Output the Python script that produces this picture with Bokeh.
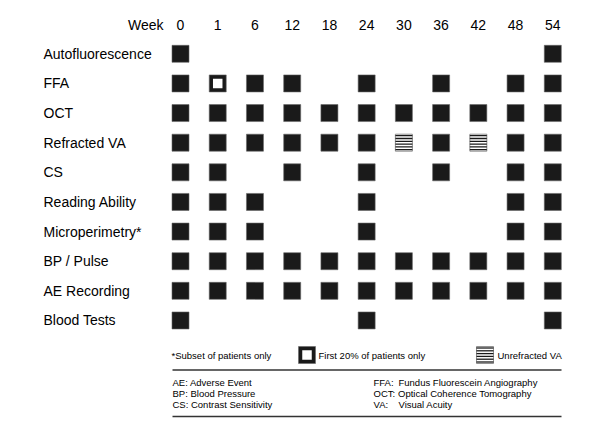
from bokeh.plotting import figure
from bokeh.models import Range1d
from bokeh.embed import file_html
from bokeh.resources import INLINE
from bokeh.core.properties import value

# ---- data ----
weeks = ["0", "1", "6", "12", "18", "24", "30", "36", "42", "48", "54"]
assessments = ["Autofluorescence", "FFA", "OCT", "Refracted VA", "CS",
               "Reading Ability", "Microperimetry*", "BP / Pulse",
               "AE Recording", "Blood Tests"]
# visit weeks per assessment (F = full, O = first 20% only, H = unrefracted VA)
schedule = {
    "Autofluorescence": {"0": "F", "54": "F"},
    "FFA": {"0": "F", "1": "O", "6": "F", "12": "F", "24": "F", "36": "F", "48": "F", "54": "F"},
    "OCT": {w: "F" for w in weeks},
    "Refracted VA": {w: ("H" if w in ("30", "42") else "F") for w in weeks},
    "CS": {"0": "F", "1": "F", "12": "F", "24": "F", "36": "F", "48": "F", "54": "F"},
    "Reading Ability": {"0": "F", "1": "F", "6": "F", "24": "F", "48": "F", "54": "F"},
    "Microperimetry*": {"0": "F", "1": "F", "6": "F", "24": "F", "48": "F", "54": "F"},
    "BP / Pulse": {w: "F" for w in weeks},
    "AE Recording": {w: "F" for w in weeks},
    "Blood Tests": {"0": "F", "24": "F", "54": "F"},
}
legend_labels = ["*Subset of patients only", "First 20% of patients only", "Unrefracted VA"]
abbrev_left = ["AE: Adverse Event", "BP: Blood Pressure", "CS: Contrast Sensitivity"]
abbrev_right_key = ["FFA:", "OCT:", "VA:"]
abbrev_right_val = ["Fundus Fluorescein Angiography", "Optical Coherence Tomography", "Visual Acuity"]

# ---- layout (page pixel coordinates) ----
X0, DX = 180.0, 37.23
Y0, DY = 53.3, 29.63
SQ = 17
FONT = value("Liberation Sans")
BLACK = "#1a1a1a"

p = figure(width=600, height=429, output_backend="svg", toolbar_location=None,
           x_range=Range1d(0, 600), y_range=Range1d(429, 0),
           min_border=0, outline_line_color=None)
p.axis.visible = False
p.grid.visible = False
p.background_fill_color = "white"
p.border_fill_color = "white"

# header
col_x = [X0 + i * DX for i in range(len(weeks))]
p.text(x=[163], y=[24], text=["Week"], text_font=FONT, text_font_size="14px",
       text_align="right", text_baseline="middle", text_color="black")
p.text(x=col_x, y=[24] * len(weeks), text=weeks, text_font=FONT, text_font_size="14px",
       text_align="center", text_baseline="middle", text_color="black")

# row labels
row_y = [Y0 + j * DY for j in range(len(assessments))]
p.text(x=[43] * len(assessments), y=row_y, text=assessments, text_font=FONT,
       text_font_size="14px", text_align="left", text_baseline="middle", text_color="black")

fx, fy, ox, oy, hx, hy = [], [], [], [], [], []
for j, a in enumerate(assessments):
    for i, w in enumerate(weeks):
        k = schedule[a].get(w)
        if k == "F":
            fx.append(col_x[i]); fy.append(row_y[j])
        elif k == "O":
            ox.append(col_x[i]); oy.append(row_y[j])
        elif k == "H":
            hx.append(col_x[i]); hy.append(row_y[j])

# legend markers positions
LEG_Y = 354.5
ox.append(306.5); oy.append(LEG_Y)
hx.append(484.5); hy.append(LEG_Y)

p.rect(x=fx, y=fy, width=SQ, height=SQ, fill_color=BLACK, line_color="#666", line_width=0.6)
p.rect(x=ox, y=oy, width=SQ, height=SQ, fill_color=BLACK, line_color="#666", line_width=0.6)
p.rect(x=ox, y=oy, width=9.5, height=9.5, fill_color="white", line_color=None)
p.rect(x=hx, y=hy, width=SQ, height=SQ, fill_color="white", line_color="#777", line_width=0.8)
sx0, sx1, sy = [], [], []
for cx, cy in zip(hx, hy):
    for t in range(6):
        yy = cy - SQ / 2 + 1.5 + t * 2.8
        sx0.append(cx - SQ / 2); sx1.append(cx + SQ / 2); sy.append(yy)
p.segment(x0=sx0, y0=sy, x1=sx1, y1=sy, line_color=BLACK, line_width=1.3)

# legend texts
p.text(x=[171, 318, 497], y=[LEG_Y] * 3, text=legend_labels, text_font=FONT,
       text_font_size="9.5px", text_align="left", text_baseline="middle", text_color="black")

# separator lines
p.segment(x0=[172, 172], y0=[369.5, 416], x1=[561, 561], y1=[369.5, 416],
          line_color="#333", line_width=1.5)

ab_y = [381.7, 392.7, 404]
p.text(x=[172] * 3, y=ab_y, text=abbrev_left, text_font=FONT, text_font_size="9.5px",
       text_align="left", text_baseline="middle", text_color="black")
p.text(x=[373] * 3, y=ab_y, text=abbrev_right_key, text_font=FONT, text_font_size="9.5px",
       text_align="left", text_baseline="middle", text_color="black")
p.text(x=[398, 397.5, 398], y=ab_y, text=abbrev_right_val, text_font=FONT, text_font_size="9.5px",
       text_align="left", text_baseline="middle", text_color="black")

open("out.html", "w").write(file_html(p, INLINE))
